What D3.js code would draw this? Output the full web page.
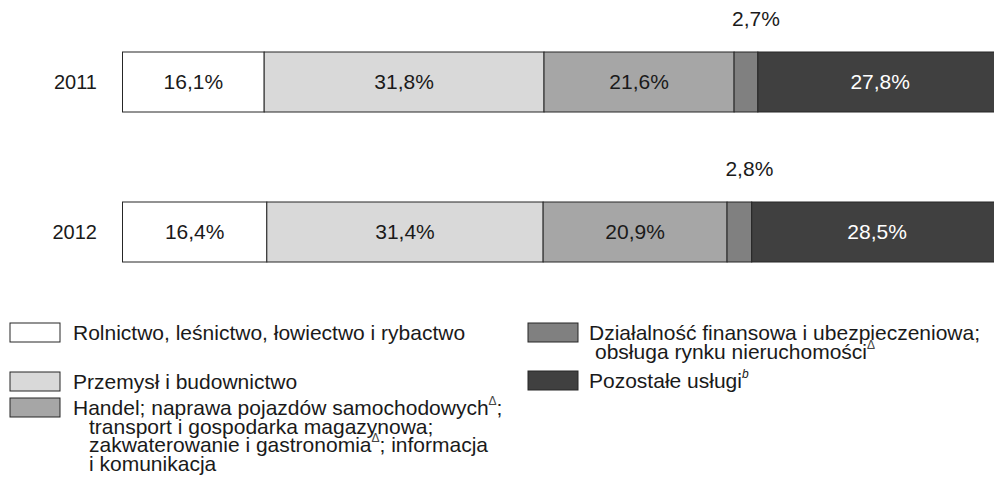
<!DOCTYPE html>
<html>
<head>
<meta charset="utf-8">
<script src="https://cdn.jsdelivr.net/npm/d3@7"></script>
<style>
  body { margin: 0; background: #fff; }
  svg { display: block; font-family: Arial, "Liberation Sans", sans-serif; }
</style>
</head>
<body>
<div class="chart"></div>
<script>
var years = ["2011", "2012"];
var categories = ["Rolnictwo", "Przemysl", "Handel", "Finanse", "Pozostale"];
var values2011 = [16.1, 31.8, 21.6, 2.7, 27.8];
var values2012 = [16.4, 31.4, 20.9, 2.8, 28.5];
var colors = ["#ffffff", "#d9d9d9", "#a6a6a6", "#808080", "#404040"];

var width = 994,
    height = 492;

var svg = d3.select(".chart").append("svg")
    .attr("width", width)
    .attr("height", height);

var x = d3.scaleLinear().domain([0, 100]).range([122.5, 1002.5]);
var y = d3.scaleBand().domain(years).range([52, 262]).paddingInner(0.6);

var rows = [values2011, values2012].map(function(vals, i) {
    var acc = 0;
    return vals.map(function(v, j) {
        var seg = { year: years[i], cat: categories[j], value: v, x0: acc, x1: acc + v, idx: j };
        acc += v;
        return seg;
    });
});

var fmt = function(v) { return d3.format(".1f")(v).replace(".", ",") + "%"; };

// year labels
svg.append("g").selectAll("text")
    .data(years)
    .enter().append("text")
    .attr("x", 97)
    .attr("y", function(d) { return y(d) + y.bandwidth() / 2; })
    .attr("dy", "0.35em")
    .attr("text-anchor", "end")
    .style("font-size", "20px")
    .attr("fill", "#1a1a1a")
    .text(function(d) { return d; });

var rowG = svg.append("g").selectAll("g")
    .data(rows)
    .enter().append("g");

rowG.selectAll("rect")
    .data(function(d) { return d; })
    .enter().append("rect")
    .attr("x", function(d) { return x(d.x0); })
    .attr("y", function(d) { return y(d.year); })
    .attr("width", function(d) { return x(d.x1) - x(d.x0); })
    .attr("height", y.bandwidth())
    .attr("fill", function(d) { return colors[d.idx]; })
    .attr("stroke", "#262626")
    .attr("stroke-width", 1);

rowG.selectAll("text")
    .data(function(d) { return d; })
    .enter().append("text")
    .attr("x", function(d) {
        var c = (x(d.x0) + x(d.x1)) / 2;
        return d.value < 5 ? c + 10 : c;
    })
    .attr("y", function(d) {
        return d.value < 5 ? y(d.year) - 26 : y(d.year) + y.bandwidth() / 2;
    })
    .attr("dy", function(d) { return d.value < 5 ? "0" : "0.35em"; })
    .attr("text-anchor", "middle")
    .style("font-size", "21px")
    .attr("fill", function(d) { return d.idx === 4 && d.value >= 5 ? "#ffffff" : "#1a1a1a"; })
    .text(function(d) { return fmt(d.value); });

// legend
var legend = [
    { idx: 0, sx: 10, sy: 323, tx: 73, lines: [[{ t: "Rolnictwo, leśnictwo, łowiectwo i rybactwo" }]] },
    { idx: 1, sx: 10, sy: 372, tx: 73, lines: [[{ t: "Przemysł i budownictwo" }]] },
    { idx: 2, sx: 10, sy: 398, tx: 73, indent: 16, lines: [
        [{ t: "Handel; naprawa pojazdów samochodowych" }, { t: "Δ", sup: true }, { t: ";" }],
        [{ t: "transport i gospodarka magazynowa;" }],
        [{ t: "zakwaterowanie i gastronomia" }, { t: "Δ", sup: true }, { t: "; informacja" }],
        [{ t: "i komunikacja" }]
    ] },
    { idx: 3, sx: 528, sy: 323, tx: 589, indent: 6, lines: [
        [{ t: "Działalność finansowa i ubezpieczeniowa;" }],
        [{ t: "obsługa rynku nieruchomości" }, { t: "Δ", sup: true }]
    ] },
    { idx: 4, sx: 528, sy: 371, tx: 589, lines: [
        [{ t: "Pozostałe usługi" }, { t: "b", sup: true, italic: true }]
    ] }
];

var lg = svg.append("g").selectAll("g")
    .data(legend)
    .enter().append("g");

lg.append("rect")
    .attr("x", function(d) { return d.sx; })
    .attr("y", function(d) { return d.sy; })
    .attr("width", 50)
    .attr("height", 19)
    .attr("fill", function(d) { return colors[d.idx]; })
    .attr("stroke", "#262626")
    .attr("stroke-width", 1);

lg.each(function(d) {
    var g = d3.select(this);
    d.lines.forEach(function(line, li) {
        var t = g.append("text")
            .attr("x", d.tx + (li > 0 ? (d.indent || 0) : 0))
            .attr("y", d.sy + 17 + li * 18.6)
            .style("font-size", "21px")
            .attr("fill", "#1a1a1a");
        var raised = false;
        line.forEach(function(p) {
            var s = t.append("tspan").text(p.t);
            if (p.sup) {
                s.attr("dy", -10).style("font-size", "12px").attr("fill", "#444");
                if (p.italic) s.style("font-style", "italic").attr("fill", "#1a1a1a");
                raised = true;
            } else if (raised) {
                s.attr("dy", 10);
                raised = false;
            }
        });
    });
});
</script>
</body>
</html>
